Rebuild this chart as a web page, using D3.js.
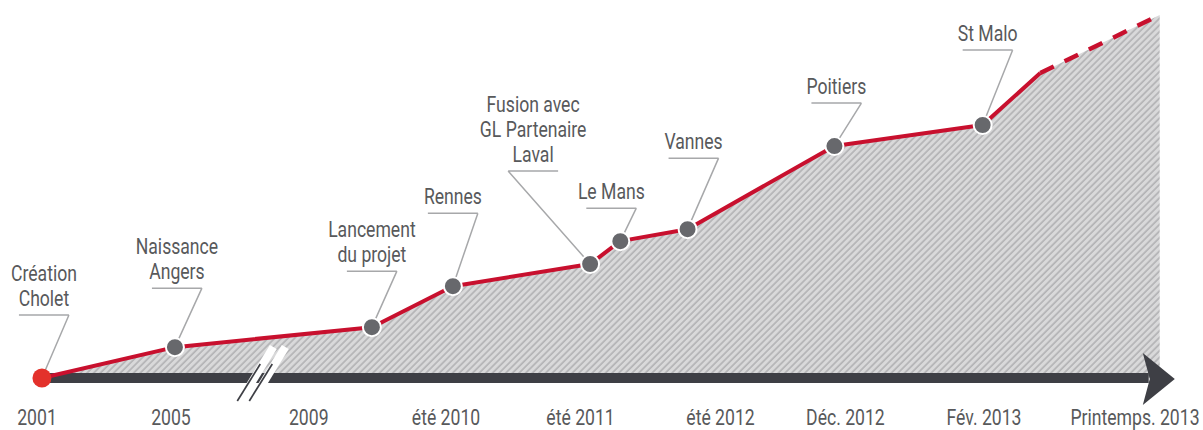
<!DOCTYPE html>
<html><head><meta charset="utf-8">
<script src="https://cdn.jsdelivr.net/npm/d3@7"></script>
<style>body{margin:0;background:#fff}svg{display:block}</style>
</head><body><svg id="c" width="1203" height="430"></svg>
<script>
// ---- data ----
const tickLabels = ["2001", "2005", "2009", "été 2010", "été 2011", "été 2012", "Déc. 2012", "Fév. 2013", "Printemps. 2013"];
const tickPos = [0, 0.976, 1.98, 2.98, 3.96, 4.98, 5.89, 6.90, 8];
const eventNames = [["Création", "Cholet"], ["Naissance", "Angers"], ["Lancement", "du projet"], ["Rennes"],
  ["Fusion avec", "GL Partenaire", "Laval"], ["Le Mans"], ["Vannes"], ["Poitiers"], ["St Malo"]];
const eventPos = [0.036, 1.005, 2.44, 3.03, 4.03, 4.25, 4.74, 5.81, 6.89];
const eventValues = [0, 8.5, 14.0, 25.3, 31.4, 37.7, 41.0, 63.9, 69.7];
const growthPos = [7.31];
const growthValues = [84.0];
const projectionPos = [7.31, 8.18];
const projectionValues = [84.0, 100];
const breakAt = 1.78;

// ---- layout of annotations (offsets from the point, px) ----
const labelDx = [2, 2, 0, 0, -57, -9, 6, 2, 5];
const labelDy = [-63, -59, -56, -73, -93, -33, -71, -43, -75];
const leaderSide = [1, 1, 1, 1, -1, 1, 1, 1, 1];

const FONT = "Roboto,'Liberation Sans',sans-serif";
const SX = 0.8; // condensed look
const svg = d3.select("#c");
const x = d3.scaleLinear().domain([0, 8]).range([37, 1135]);
const y = d3.scaleLinear().domain([0, 100]).range([378, 15]);

const defs = svg.append("defs");
const pat = defs.append("pattern").attr("id", "hatch").attr("patternUnits", "userSpaceOnUse")
  .attr("width", 4.7).attr("height", 4.7).attr("patternTransform", "rotate(45)");
pat.append("rect").attr("width", 4.7).attr("height", 4.7).attr("fill", "#d9d9da");
pat.append("line").attr("x1", 1).attr("x2", 1).attr("y1", 0).attr("y2", 4.7)
  .attr("stroke", "#9a9a9c").attr("stroke-width", 1);

const solid = eventPos.map((p, i) => [p, eventValues[i]]).concat(growthPos.map((p, i) => [p, growthValues[i]]));
const dashed = projectionPos.map((p, i) => [p, projectionValues[i]]);
const all = solid.concat(dashed.slice(1));

// area
const area = d3.area().x(d => x(d[0])).y0(y(0)).y1(d => y(d[1]));
svg.append("path").datum(all).attr("d", area).attr("fill", "url(#hatch)");

// axis bar
const axisY = y(0);
svg.append("line").attr("x1", x(eventPos[0])).attr("x2", x(8.1)).attr("y1", axisY).attr("y2", axisY)
  .attr("stroke", "#3e3f45").attr("stroke-width", 10);
const tipX = x(8.29);
svg.append("path").attr("d", `M${tipX - 32},${axisY - 25} L${tipX},${axisY + 1} L${tipX - 32},${axisY + 27} L${tipX - 25},${axisY + 1} Z`)
  .attr("fill", "#3e3f45");

// axis break
const bx = x(breakAt);
[0, 12].forEach(off => {
  const x0 = bx - 41 + off, y0 = 401, x1 = bx - 8 + off, y1 = 347;
  svg.append("line").attr("x1", x0).attr("y1", y0).attr("x2", x1).attr("y2", y1)
    .attr("stroke", "#fff").attr("stroke-width", 8);
  svg.append("line").attr("x1", x0 - 3).attr("y1", y0).attr("x2", x0 + 20).attr("y2", y0 - 37)
    .attr("stroke", "#3e3f45").attr("stroke-width", 1.7);
});

// lines
const line = d3.line().x(d => x(d[0])).y(d => y(d[1]));
svg.append("path").datum(solid).attr("d", line).attr("fill", "none")
  .attr("stroke", "#c8102e").attr("stroke-width", 4).attr("stroke-linejoin", "round");
svg.append("path").datum(dashed).attr("d", line).attr("fill", "none")
  .attr("stroke", "#c8102e").attr("stroke-width", 4.5).attr("stroke-dasharray", "15,12");

// annotations
eventNames.forEach((lines, i) => {
  const px = x(eventPos[i]), py = y(eventValues[i]);
  const ux = px + labelDx[i], uy = py + labelDy[i];
  const endX = ux + 25 * leaderSide[i];
  svg.append("path").attr("d", `M${ux - 25},${uy} L${ux + 25},${uy} M${endX},${uy} L${px},${py}`)
    .attr("fill", "none").attr("stroke", "#a7a8aa").attr("stroke-width", 1.5);
  const t = svg.append("text").attr("text-anchor", "middle").attr("font-family", FONT)
    .attr("font-size", 22).attr("fill", "#58595b")
    .attr("transform", `translate(${ux},0) scale(${SX},1)`);
  lines.forEach((s, k) => {
    t.append("tspan").attr("x", 0).attr("y", uy - 9 - (lines.length - 1 - k) * 25).text(s);
  });
});

// points
svg.selectAll("circle.pt").data(eventPos).enter().append("circle").attr("class", "pt")
  .attr("cx", d => x(d)).attr("cy", (d, i) => y(eventValues[i])).attr("r", (d, i) => i === 0 ? 9.5 : 9)
  .attr("fill", (d, i) => i === 0 ? "#e3312b" : "#67686c")
  .attr("stroke", (d, i) => i === 0 ? "none" : "#fff").attr("stroke-width", 2);

// tick labels
svg.selectAll("text.tick").data(tickLabels).enter().append("text").attr("class", "tick")
  .attr("transform", (d, i) => `translate(${x(tickPos[i])},425) scale(${SX},1)`)
  .attr("x", 0).attr("y", 0).attr("text-anchor", "middle")
  .attr("font-family", FONT).attr("font-size", 22).attr("fill", "#58595b").text(d => d);
</script></body></html>
